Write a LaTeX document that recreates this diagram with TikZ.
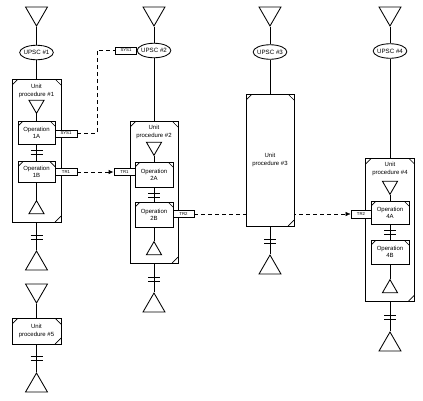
\documentclass[tikz,border=0pt]{standalone}
\usepackage{fontspec}
\setmainfont{Liberation Sans}
\usetikzlibrary{shapes.geometric,arrows.meta,backgrounds}
\begin{document}
\begin{tikzpicture}[x=1pt,y=-1pt, line width=0.85pt,
 every node/.style={font=\fontsize{6}{7.2}\selectfont, inner sep=0pt},
 bigdown/.style={regular polygon, regular polygon sides=3, shape border rotate=180, draw, minimum size=25.4pt},
 bigup/.style={regular polygon, regular polygon sides=3, draw, minimum size=25.4pt},
 smalldown/.style={bigdown, minimum size=17.5pt},
 smallup/.style={bigup, minimum size=17.5pt},
 upsc/.style={ellipse, draw, fill=white, inner xsep=-1pt, minimum width=33pt, minimum height=14.5pt, font=\fontsize{6.2}{7}\selectfont},
 unitbox/.style={rectangle, draw, fill=white, align=center, path picture={
   \draw[line width=0.7pt] ([yshift=-6pt]path picture bounding box.north west) -- ([xshift=6pt]path picture bounding box.north west)
     ([xshift=-6pt]path picture bounding box.north east) -- ([yshift=-6pt]path picture bounding box.north east)
     ([xshift=-6pt]path picture bounding box.south east) -- ([yshift=6pt]path picture bounding box.south east);
   \fill ([shift={(-2.6pt,-1.4pt)}]path picture bounding box.north east) rectangle ++(1.2pt,-1.2pt);}},
 opbox/.style={rectangle, draw, fill=white, align=center, path picture={
   \draw[line width=0.7pt] ([yshift=-5pt]path picture bounding box.north west) -- ([xshift=5pt]path picture bounding box.north west)
     ([xshift=-5pt]path picture bounding box.north east) -- ([yshift=-5pt]path picture bounding box.north east);
   \fill ([shift={(-2.4pt,-1.3pt)}]path picture bounding box.north east) rectangle ++(1.1pt,-1.1pt);}},
 tag/.style={rectangle, draw, fill=white, minimum width=21pt, minimum height=7pt, font=\fontsize{4.3}{5}\selectfont},
 lbl/.style={align=center},
 flow/.style={dash pattern=on 4pt off 3pt},
 tip/.style={-{Latex[length=5pt,width=4.5pt]}}
]
\useasboundingbox (0,0) rectangle (423,400);

% ---- column 1
\node[bigdown] (t1) at (36.5,13.3) {};
\node[upsc] (p1) at (36.5,52.5) {UPSC \#1};
\node[unitbox, minimum width=49pt, minimum height=143pt] (u1) at (36.5,150.5) {};
\node[lbl] (u1l) at (36.5,91) {Unit\\procedure \#1};
\node[smalldown] (u1d) at (36.5,104.6) {};
\node[opbox, minimum width=37pt, minimum height=23pt] (o1a) at (36.5,132.5) {Operation\\1A};
\node[tag, minimum width=22pt] (s1a) at (66,133.5) {SYS1};
\node[opbox, minimum width=37pt, minimum height=21pt] (o1b) at (36.5,172) {Operation\\1B};
\node[tag, minimum width=22pt] (r1a) at (66,172) {TR1};
\node[smallup] (u1u) at (36.5,209.4) {};
\node[bigup] (b1) at (36.5,263.7) {};
\node[bigdown] (t5) at (36.5,290.3) {};
\node[unitbox, minimum width=49pt, minimum height=26pt] (u5) at (36.5,331) {Unit\\procedure \#5};
\node[bigup] (b5) at (36.5,385.7) {};

% ---- column 2
\node[bigdown] (t2) at (154,13.3) {};
\node[tag] (s1b) at (126,50.5) {SYS1};
\node[upsc] (p2) at (154,50.5) {UPSC \#2};
\node[unitbox, minimum width=48pt, minimum height=142pt] (u2) at (154,192) {};
\node[lbl] (u2l) at (154,132) {Unit\\procedure \#2};
\node[smalldown] (u2d) at (154,146.6) {};
\node[opbox, minimum width=38pt, minimum height=25pt] (o2a) at (154,174.5) {Operation\\2A};
\node[tag] (r1b) at (124.5,172) {TR1};
\node[opbox, minimum width=38pt, minimum height=25pt] (o2b) at (154,214.5) {Operation\\2B};
\node[tag] (r2a) at (183.5,214) {TR2};
\node[smallup] (u2u) at (154,250.4) {};
\node[bigup] (b2) at (154,305.7) {};

% ---- column 3
\node[bigdown] (t3) at (270,13.3) {};
\node[upsc] (p3) at (270,52) {UPSC \#3};
\node[unitbox, minimum width=48pt, minimum height=132pt] (u3) at (270,160) {Unit\\procedure \#3};
\node[bigup] (b3) at (270,267.7) {};

% ---- column 4
\node[bigdown] (t4) at (390,13.3) {};
\node[upsc] (p4) at (390,51) {UPSC \#4};
\node[unitbox, minimum width=49pt, minimum height=143pt] (u4) at (390,229.5) {};
\node[lbl] (u4l) at (390,169) {Unit\\procedure \#4};
\node[smalldown] (u4d) at (390,185.6) {};
\node[opbox, minimum width=38pt, minimum height=23pt] (o4a) at (390,212.5) {Operation\\4A};
\node[tag, minimum width=20pt, minimum height=8pt] (r2b) at (361,214) {TR2};
\node[opbox, minimum width=38pt, minimum height=24pt] (o4b) at (390,252) {Operation\\4B};
\node[smallup] (u4u) at (390,288.4) {};
\node[bigup] (b4) at (390,344.7) {};

% ---- connectors
\draw (t1) -- (p1);  \draw (p1) -- (u1);
\draw (u1d) -- (o1a); \draw (o1a) -- (o1b); \draw (o1b) -- (u1u);
\draw (u1) -- (b1);
\draw (t5) -- (u5); \draw (u5) -- (b5);

\draw (t2) -- (p2);  \draw (p2) -- (u2);
\draw (u2d) -- (o2a); \draw (o2a) -- (o2b); \draw (o2b) -- (u2u);
\draw (u2) -- (b2);

\draw (t3) -- (p3);  \draw (p3) -- (u3); \draw (u3) -- (b3);

\draw (t4) -- (p4);  \draw (p4) -- (u4);
\draw (u4d) -- (o4a); \draw (o4a) -- (o4b); \draw (o4b) -- (u4u);
\draw (u4) -- (b4);

% ---- double bars
\draw (30.5,150) -- (42.5,150) (30.5,154) -- (42.5,154);
\draw (30.5,235) -- (42.5,235) (30.5,239) -- (42.5,239);
\draw (30.5,356) -- (42.5,356) (30.5,360) -- (42.5,360);
\draw (148,193) -- (160,193) (148,197) -- (160,197);
\draw (148,277) -- (160,277) (148,281) -- (160,281);
\draw (264,239) -- (276,239) (264,243) -- (276,243);
\draw (384,230) -- (396,230) (384,234) -- (396,234);
\draw (384,315) -- (396,315) (384,319) -- (396,319);

% ---- dashed flows
\coordinate (bend) at (97,0);
\draw[flow] (s1a.east) -| (bend |- s1b.west) -- (s1b.west);
\draw[flow, tip] (r1a.east) -- (r1b.west);
\begin{pgfonlayer}{background}
\draw[flow, tip] (r2a.east) -- (r2b.west);
\end{pgfonlayer}
\end{tikzpicture}
\end{document}
